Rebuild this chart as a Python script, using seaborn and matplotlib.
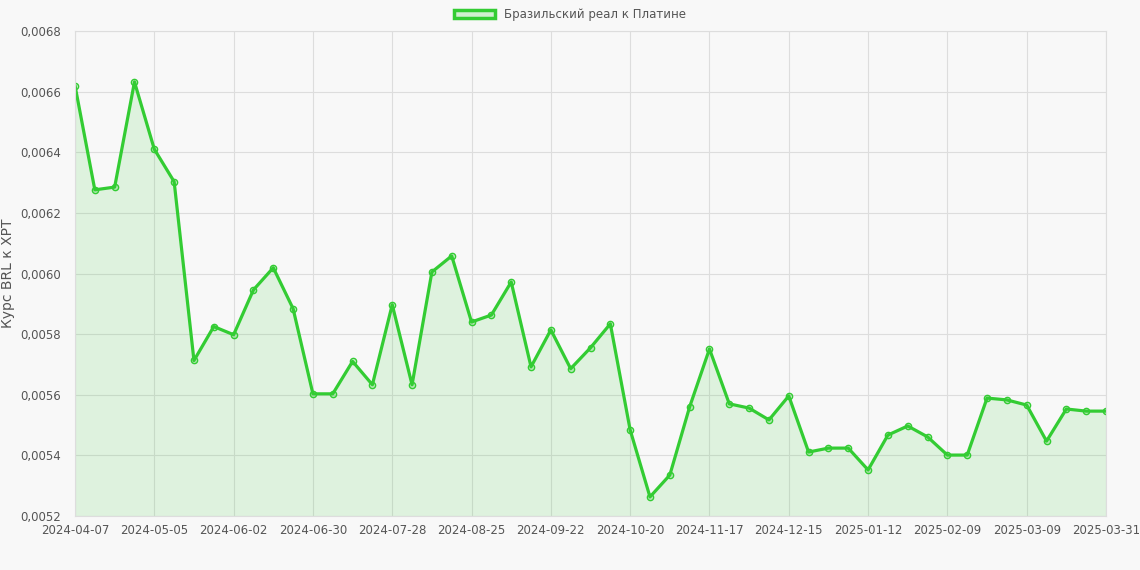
import pandas as pd
import numpy as np
import seaborn as sns
import matplotlib.pyplot as plt
from matplotlib.patches import Patch

dates = pd.date_range('2024-04-07', periods=53, freq='7D').strftime('%Y-%m-%d').tolist()
dates[-1] = '2025-03-31'
rates = [0.00662, 0.006276, 0.006285, 0.006632, 0.00641, 0.006303, 0.005713, 0.005825,
         0.005798, 0.005946, 0.006019, 0.005884, 0.005603, 0.005603, 0.00571, 0.005633,
         0.005897, 0.005633, 0.006005, 0.006058, 0.00584, 0.005863, 0.005972, 0.005692,
         0.005814, 0.005686, 0.005755, 0.005834, 0.005484, 0.005263, 0.005335, 0.00556,
         0.005751, 0.00557, 0.005556, 0.005517, 0.005596, 0.005411, 0.005424, 0.005424,
         0.005352, 0.005467, 0.005497, 0.005461, 0.005401, 0.005401, 0.005589, 0.005583,
         0.005566, 0.005447, 0.005553, 0.005546, 0.005546]

df = pd.DataFrame({'date': dates, 'rate': rates, 'idx': range(len(dates))})

sns.set_style('whitegrid')
bg = '#f8f8f8'
green = '#33cc33'
fig = plt.figure(figsize=(11.4, 5.7), dpi=100, facecolor=bg)
ax = fig.add_axes([75/1140, 1-516/570, 1031/1140, 485/570])
ax.set_facecolor(bg)

ax.fill_between(df['idx'], 0.0052, df['rate'], color=green, alpha=0.13, lw=0)
sns.lineplot(data=df, x='idx', y='rate', ax=ax, color=green, lw=2.3, marker='o',
             markersize=4.5, markerfacecolor=(0.2, 0.8, 0.2, 0.25), markeredgecolor=green,
             markeredgewidth=1)

ax.set_xlim(0, len(dates)-1)
ax.set_ylim(0.0052, 0.0068)
ticks = list(range(0, len(dates)-1, 4)) + [len(dates)-1]
ax.set_xticks(ticks)
ax.set_xticklabels([dates[i] for i in ticks])
yt = np.arange(0.0052, 0.00681, 0.0002)
ax.set_yticks(yt)
ax.set_yticklabels([f'{v:.4f}'.replace('.', ',') for v in yt])
ax.tick_params(labelsize=8.5, colors='#555555', length=0)
ax.tick_params(axis='x', pad=6)
ax.tick_params(axis='y', pad=10)
ax.grid(color='#dddddd', lw=0.8)
for s in ax.spines.values():
    s.set_color('#dddddd')
ax.set_xlabel('')
ax.set_ylabel('Курс BRL к XPT', fontsize=10, color='#555555', labelpad=4)

fig.legend(handles=[Patch(facecolor=(0.2, 0.8, 0.2, 0.2), edgecolor=green, lw=2.5,
                          label='Бразильский реал к Платине')],
           loc='upper center', bbox_to_anchor=(0.5, 1.005), frameon=False, fontsize=8.5,
           labelcolor='#555555', handlelength=3.5)

fig.savefig('out.png', dpi=100, facecolor=bg)
